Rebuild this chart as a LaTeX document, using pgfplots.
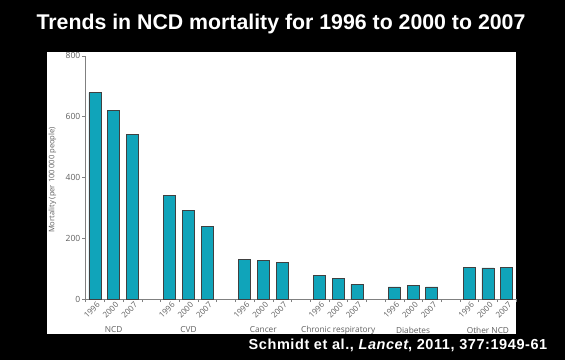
\documentclass[border=0pt]{standalone}
\usepackage{pgfplots}
\pgfplotsset{compat=1.18}
\usepackage{fontspec}
\setmainfont{Liberation Sans}
\newfontfamily\chartfont{Open Sans}
\newfontfamily\citefont[LetterSpace=4]{Liberation Sans}
\definecolor{barfill}{RGB}{16,164,186}
\definecolor{txtgray}{RGB}{95,95,95}
\begin{document}
\begin{tikzpicture}[x=1pt,y=1pt]
\fill[black] (0,0) rectangle (565,360);
\fill[white] (47,26) rectangle (516,308);
\node[text=white,font=\bfseries\fontsize{21.3}{24}\selectfont] at (281,336) {Trends in NCD mortality for 1996 to 2000 to 2007};
\node[text=white,font=\citefont\bfseries\fontsize{14.5}{17}\selectfont] at (398,15) {Schmidt et al., \textit{Lancet}, 2011, 377:1949-61};
\node[rotate=90,text=txtgray,font=\chartfont\fontsize{7.6}{9}\selectfont] at (52.5,180) {Mortality (per 100\,000 people)};
\begin{axis}[
  at={(85.5pt,61pt)}, anchor=south west,
  scale only axis, width=430.5pt, height=243.3pt,
  xmin=-0.5, xmax=22.5, ymin=0, ymax=800,
  axis x line=bottom, axis y line=left,
  axis line style={-, draw=gray},
  ybar, bar width=12pt, clip=false,
  xtick={0,1,2,4,5,6,8,9,10,12,13,14,16,17,18,20,21,22},
  xticklabels={1996,2000,2007,1996,2000,2007,1996,2000,2007,1996,2000,2007,1996,2000,2007,1996,2000,2007},
  minor xtick={-0.5,0.5,...,22.5},
  major x tick style={draw=none},
  minor x tick style={draw=gray},
  minor tick length=3pt,
  ytick={0,200,400,600,800},
  y tick style={draw=gray}, major tick length=3pt,
  tick align=outside,
  /pgf/number format/assume math mode=true,
  xticklabel style={rotate=45, anchor=north east, inner sep=0.5pt, text=txtgray, font=\chartfont\fontsize{8}{9}\selectfont, xshift=2pt},
  yticklabel style={text=txtgray, font=\chartfont\fontsize{8.5}{9}\selectfont, inner sep=2pt},
]
\addplot[fill=barfill, draw=black!75, line width=0.6pt] coordinates {
 (0,679) (1,619) (2,542)
 (4,341) (5,292) (6,239)
 (8,129) (9,126) (10,121)
 (12,78) (13,68) (14,48)
 (16,40) (17,44) (18,40)
 (20,104) (21,102) (22,105)
};
\begin{scope}[every node/.style={text=txtgray,font=\chartfont\fontsize{8.3}{9}\selectfont}]
\node at (axis cs:1,0) [yshift=-31pt] {NCD};
\node at (axis cs:5,0) [yshift=-31pt] {CVD};
\node at (axis cs:9,0) [yshift=-31pt] {Cancer};
\node at (axis cs:13,0) [yshift=-31pt] {Chronic respiratory};
\node at (axis cs:17,0) [yshift=-31pt] {Diabetes};
\node at (axis cs:21,0) [yshift=-31pt] {Other NCD};
\end{scope}
\end{axis}
\pgfresetboundingbox
\path[use as bounding box] (0,0) rectangle (565,360);
\end{tikzpicture}
\end{document}
